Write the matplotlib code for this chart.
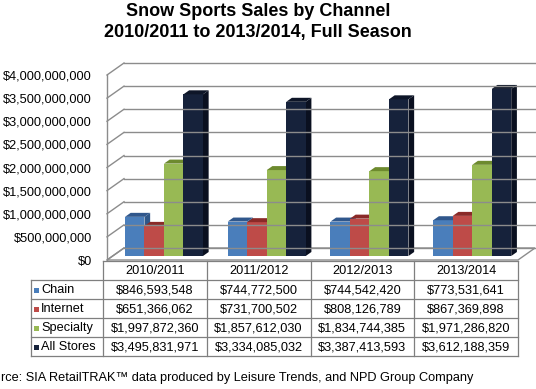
import matplotlib
matplotlib.use("Agg")
import matplotlib.pyplot as plt
from matplotlib.patches import Polygon, Rectangle

plt.rcParams['font.family'] = ['Liberation Sans', 'DejaVu Sans']

# data
seasons = ["2010/2011", "2011/2012", "2012/2013", "2013/2014"]
channels = ["Chain", "Internet", "Specialty", "All Stores"]
chain = [846593548, 744772500, 744542420, 773531641]
internet = [651366062, 731700502, 808126789, 867369898]
specialty = [1997872360, 1857612030, 1834744385, 1971286820]
all_stores = [3495831971, 3334085032, 3387413593, 3612188359]
yticks = [0, 500000000, 1000000000, 1500000000, 2000000000,
          2500000000, 3000000000, 3500000000, 4000000000]

series = [chain, internet, specialty, all_stores]
# front, top, side colours per channel
colors = [("#4A7EBB", "#30578C", "#2F5788"),
          ("#BE4B48", "#8A2A28", "#933432"),
          ("#98B954", "#6D8A2E", "#718F33"),
          ("#16223B", "#0E1628", "#0A1020")]
grid_c = "#8C8C8C"

W, H = 536, 389
fig = plt.figure(figsize=(W / 100, H / 100), dpi=100)


def box(x0, y0, x1, y1):
    # pixel box (top-left origin) -> figure rect
    return [x0 / W, 1 - y1 / H, (x1 - x0) / W, (y1 - y0) / H]


ax = fig.add_axes(box(107, 75, 518, 260))
ax.set_xlim(0, 4)
ax.set_ylim(0, 4e9)
xu = 411 / 4          # px per category
yu = 185 / 4e9        # px per dollar
DX = 17 / xu
DY = 12 / yu

# back wall, floor, side wall grid
ax.add_patch(Polygon([(0, 0), (4, 0), (4 + DX, DY), (DX, DY)], closed=True,
                     facecolor="white", edgecolor=grid_c, lw=1.0, clip_on=False))
for v in yticks:
    ax.plot([DX, 4 + DX], [v + DY, v + DY], color=grid_c, lw=1.0, clip_on=False)
    ax.plot([0, DX], [v, v + DY], color=grid_c, lw=1.0, clip_on=False)
ax.plot([0, 0], [0, 4e9], color=grid_c, lw=1.0, clip_on=False)

# 3d bars
BW = 19.5 / xu
start = 0.175
dx, dy = DX / 3, DY / 3
base = DY / 3
for i in range(len(seasons)):
    for j, vals in enumerate(series):
        v = vals[i]
        x = i + start + j * BW
        fc, tc, sc = colors[j]
        ax.add_patch(Polygon([(x + BW, base), (x + BW + dx, base + dy),
                              (x + BW + dx, base + v + dy), (x + BW, base + v)],
                             closed=True, facecolor=sc, edgecolor="none", clip_on=False))
        ax.add_patch(Rectangle((x, base), BW, v, facecolor=fc, edgecolor="none",
                               clip_on=False))
        ax.add_patch(Polygon([(x, base + v), (x + BW, base + v),
                              (x + BW + dx, base + v + dy), (x + dx, base + v + dy)],
                             closed=True, facecolor=tc, edgecolor="none", clip_on=False))

ax.set_xticks([])
ax.set_yticks(yticks)
ax.yaxis.set_major_formatter(lambda v, p: f"${v:,.0f}")
ax.tick_params(axis="y", length=0, pad=11, labelsize=9.2)
for s in ax.spines.values():
    s.set_visible(False)
ax.patch.set_visible(False)

# data table
tab = fig.add_axes(box(103, 261, 518, 356))
tab.set_xlim(0, 4)
tab.set_ylim(5, 0)
tab.axis("off")
lab_w = 72 / 103.75
line_c = "#7F7F7F"
tab.plot([0, 4], [0, 0], color=line_c, lw=0.9, clip_on=False)
for r in range(1, 6):
    tab.plot([-lab_w, 4], [r, r], color=line_c, lw=0.9, clip_on=False)
for c in range(5):
    tab.plot([c, c], [0, 5], color=line_c, lw=0.9, clip_on=False)
tab.plot([-lab_w, -lab_w], [1, 5], color=line_c, lw=0.9, clip_on=False)

for c, s in enumerate(seasons):
    tab.text(c + 0.5, 0.55, s, ha="center", va="center", fontsize=9.2)
for r, (name, vals) in enumerate(zip(channels, series)):
    y = r + 1.55
    tab.add_patch(Rectangle((-lab_w + 3 / 103.75, y - 0.15), 5 / 103.75, 0.3,
                            facecolor=colors[r][0], edgecolor="none", clip_on=False))
    tab.text(-lab_w + 10 / 103.75, y, name, ha="left", va="center", fontsize=9.2)
    for c, v in enumerate(vals):
        tab.text(c + 0.5, y, f"${v:,.0f}", ha="center", va="center", fontsize=9.2)

# titles
fig.text(258 / W, 1 - 11 / H, "Snow Sports Sales by Channel", ha="center",
         va="center", fontsize=13, fontweight="bold")
fig.text(258 / W, 1 - 32 / H, "2010/2011 to 2013/2014, Full Season", ha="center",
         va="center", fontsize=13, fontweight="bold")
# source line as it appears (left part cropped in the original image)
fig.text(1 / W, 1 - 378 / H,
         "rce: SIA RetailTRAK\u2122 data produced by Leisure Trends, and NPD Group Company",
         ha="left", va="center", fontsize=9.2)

fig.savefig("out.png", dpi=100)
